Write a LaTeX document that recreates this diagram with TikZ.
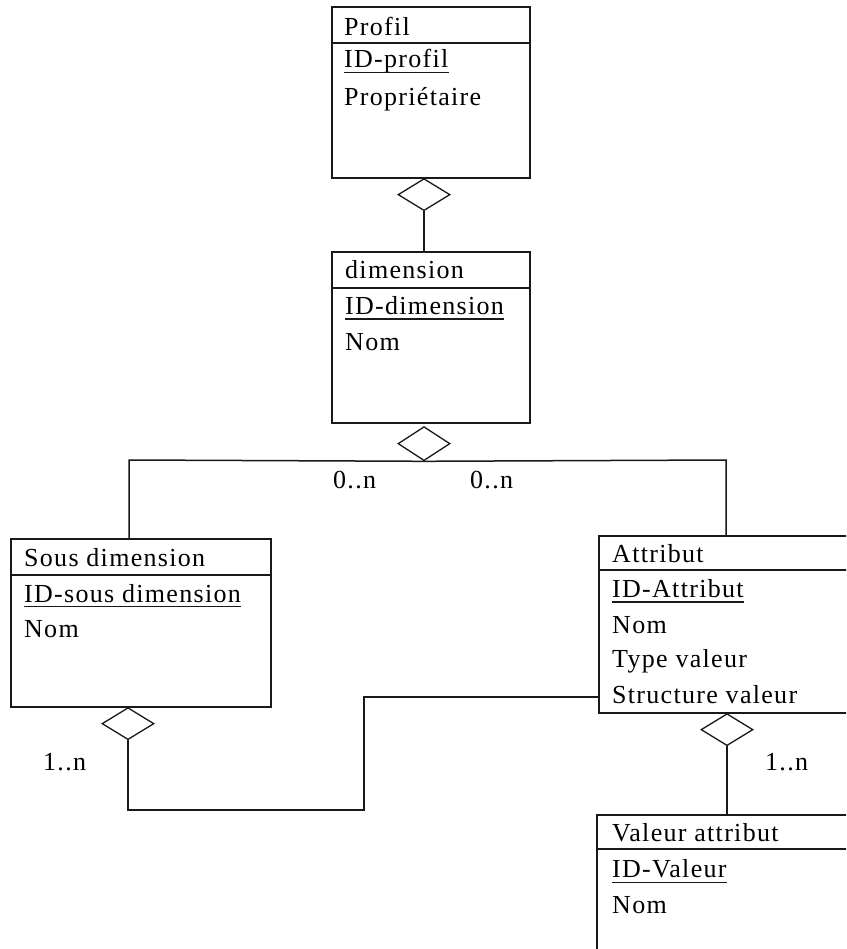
\documentclass[tikz,border=0pt]{standalone}
\usepackage{fontspec}
\setmainfont{Liberation Serif}[LetterSpace=5]
\usetikzlibrary{shapes.geometric}
\begin{document}
\begin{tikzpicture}[x=1pt,y=-1pt,
  ink/.style={draw=black!90},
  entity/.style={ink, line width=1.6pt, rectangle, inner sep=0pt},
  rel/.style={ink, line width=1.3pt, diamond, inner sep=0pt,
    minimum width=52pt, minimum height=32pt, anchor=north},
  link/.style={ink, line width=1.5pt},
  txt/.style={anchor=base west, inner sep=0pt,
    font=\fontsize{26}{30}\selectfont},
  uline/.style={ink, line width=1.4pt}]
\useasboundingbox (0,0) rectangle (846,949);
\clip (0,0) rectangle (846,949);
\fill[white] (0,0) rectangle (846,949);

% ---- Profil
\node[entity, minimum width=198pt, minimum height=171pt] (prof) at (431,92.5) {};
\draw[link] (prof.west |- 0,43) -- (prof.east |- 0,43);
\node[txt] (profT) at (344,36) {Profil};
\node[txt] (profK) at (344,68) {ID-profil};
\node[txt] (profA) at (344,106) {Propriétaire};
\draw[uline] ([yshift=-4.5pt]profK.base west) -- ([yshift=-4.5pt]profK.base east);

% ---- dimension
\node[entity, minimum width=198pt, minimum height=171pt] (dim) at (431,337.5) {};
\draw[link] (dim.west |- 0,288) -- (dim.east |- 0,288);
\node[txt] (dimT) at (345,279) {dimension};
\node[txt] (dimK) at (345,314) {ID-dimension};
\node[txt] (dimA) at (345,350) {Nom};
\draw[uline] ([yshift=-5pt]dimK.base west) -- ([yshift=-5pt]dimK.base east);

% ---- Sous dimension
\node[entity, minimum width=260pt, minimum height=168pt] (sd) at (141,623) {};
\draw[link] (sd.west |- 0,575) -- (sd.east |- 0,575);
\node[txt] (sdT) at (24,566) {Sous dimension};
\node[txt] (sdK) at (24,602) {ID-sous dimension};
\node[txt] (sdA) at (24,637) {Nom};
\draw[uline] ([yshift=-4.5pt]sdK.base west) -- ([yshift=-4.5pt]sdK.base east);

% ---- Attribut
\node[entity, minimum width=271pt, minimum height=177pt] (attr) at (734.5,624.5) {};
\draw[link] (attr.west |- 0,570) -- (attr.east |- 0,570);
\node[txt] (atT) at (612,562) {Attribut};
\node[txt] (atK) at (612,597) {ID-Attribut};
\node[txt] (atA) at (612,633) {Nom};
\node[txt] (atB) at (612,667) {Type valeur};
\node[txt] (atC) at (612,703) {Structure valeur};
\draw[uline] ([yshift=-5pt]atK.base west) -- ([yshift=-5pt]atK.base east);

% ---- Valeur attribut
\node[entity, minimum width=273pt, minimum height=155pt] (val) at (733.5,892.5) {};
\draw[link] (val.west |- 0,849) -- (val.east |- 0,849);
\node[txt] (vaT) at (612,841) {Valeur attribut};
\node[txt] (vaK) at (612,877) {ID-Valeur};
\node[txt] (vaA) at (612,913) {Nom};
\draw[uline] ([yshift=-5.5pt]vaK.base west) -- ([yshift=-5.5pt]vaK.base east);

% ---- relationship diamonds
\node[rel] (d1) at (424,178) {};
\node[rel, minimum height=34pt] (d2) at (424,426) {};
\node[rel] (d3) at (128,707) {};
\node[rel] (d4) at (727,713) {};

% ---- connectors
\coordinate (jl) at (129,460);
\coordinate (jr) at (726,460);
\coordinate (c1) at (364,810);
\coordinate (c2) at (364,697);

\draw[link] (d1.south) -- (d1.south |- dim.north);
\draw[link] (d2.south) -- (jl) -- (sd.north -| jl);
\draw[link] (d2.south) -- (jr) -- (attr.north -| jr);
\draw[link] (d3.south) -- (d3.south |- c1) -- (c1) -- (c2) -- (attr.west |- c2);
\draw[link] (d4.south) -- (val.north -| d4.south);

% ---- cardinalities
\node[txt] (cl) at (333,488) {0..n};
\node[txt] (cr) at (470,488) {0..n};
\node[txt] (cs) at (43,770) {1..n};
\node[txt] (cv) at (765,770) {1..n};
\end{tikzpicture}
\end{document}
